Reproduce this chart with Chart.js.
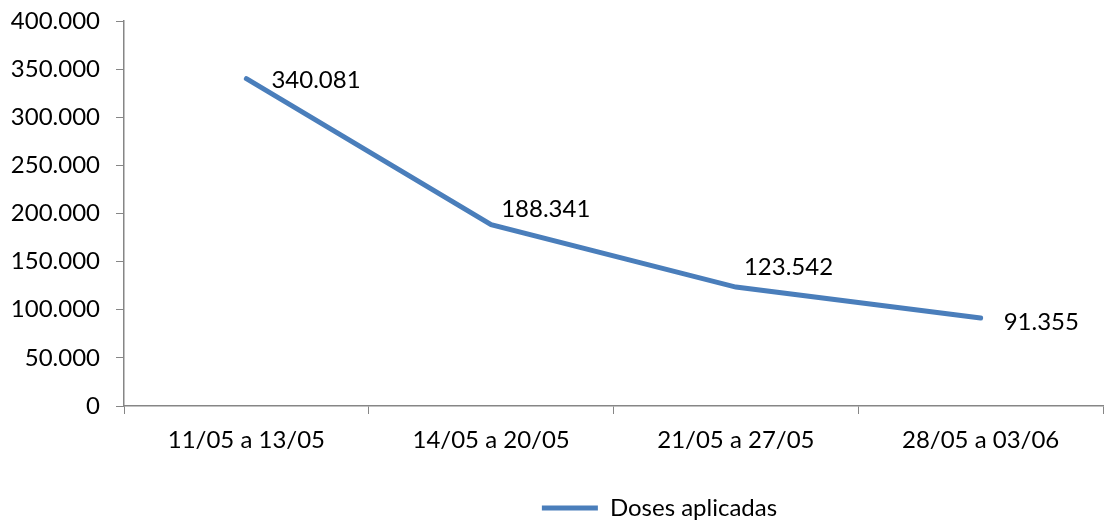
<!DOCTYPE html>
<html>
<head>
<meta charset="utf-8">
<script src="https://cdn.jsdelivr.net/npm/chart.js@4/dist/chart.umd.min.js"></script>
<style>
  html, body { margin: 0; padding: 0; background: #fff; }
  #wrap { width: 1105px; height: 520px; }
</style>
</head>
<body>
<div id="wrap"><canvas id="chart"></canvas></div>
<script>
// dados
const periodos = ['11/05 a 13/05', '14/05 a 20/05', '21/05 a 27/05', '28/05 a 03/06'];
const doses = [340081, 188341, 123542, 91355];
const serieNome = 'Doses aplicadas';

const fonte = "Lato, 'Open Sans', sans-serif";

function fmt(v) {
    return String(Math.round(v)).replace(/\B(?=(\d{3})+(?!\d))/g, '.');
}

// rótulos de dados (deslocamento de cada rótulo em relação ao ponto)
const rotulosPlugin = {
    id: 'rotulos',
    afterLayout(chart) {
        // legenda um pouco à direita e abaixo, como no original
        const lg = chart.legend;
        if (lg) {
            lg.left += 108; lg.right += 108;
            lg.top += 10; lg.bottom += 10;
        }
    },
    afterDatasetsDraw(chart, args, opts) {
        const ctx = chart.ctx;
        const meta = chart.getDatasetMeta(0);
        ctx.save();
        ctx.font = opts.font;
        ctx.fillStyle = '#000';
        ctx.textAlign = 'left';
        ctx.textBaseline = 'middle';
        meta.data.forEach((pt, i) => {
            const off = opts.offsets[i] || [10, 0];
            ctx.fillText(fmt(chart.data.datasets[0].data[i]), pt.x + off[0], pt.y + off[1]);
        });
        ctx.restore();
    }
};

new Chart(document.getElementById('chart'), {
    type: 'line',
    data: {
        labels: periodos,
        datasets: [{
            label: serieNome,
            data: doses,
            borderColor: '#4a7ebb',
            backgroundColor: '#4a7ebb',
            borderWidth: 5,
            borderCapStyle: 'round',
            pointRadius: 0,
            tension: 0
        }]
    },
    options: {
        responsive: true,
        maintainAspectRatio: false,
        animation: false,
        layout: { padding: { top: 21, right: 2, left: 0, bottom: 0 } },
        scales: {
            y: {
                min: 0,
                max: 400000,
                ticks: {
                    stepSize: 50000,
                    color: '#000',
                    font: { family: fonte, size: 24, lineHeight: 0.4 },
                    padding: 16,
                    callback: v => fmt(v)
                },
                grid: { drawOnChartArea: false, tickLength: 8, color: '#868686' },
                border: { color: '#868686', width: 1.5 },
                afterFit(s) { s.width = 124; }
            },
            x: {
                offset: true,
                ticks: {
                    color: '#000',
                    font: { family: fonte, size: 24 },
                    padding: 12
                },
                grid: { drawOnChartArea: false, offset: true, tickLength: 8, color: '#868686' },
                border: { color: '#868686', width: 1.5 },
                afterFit(s) { s.height = 72; }
            }
        },
        plugins: {
            legend: {
                position: 'bottom',
                labels: {
                    usePointStyle: true,
                    pointStyle: 'line',
                    pointStyleWidth: 56,
                    color: '#000',
                    font: { family: fonte, size: 24 },
                    padding: 8
                }
            },
            tooltip: { enabled: false },
            rotulos: {
                font: '24px ' + fonte,
                offsets: [[25, 2], [10, -15], [8, -20], [23, 4]]
            }
        }
    },
    plugins: [rotulosPlugin]
});
</script>
</body>
</html>
